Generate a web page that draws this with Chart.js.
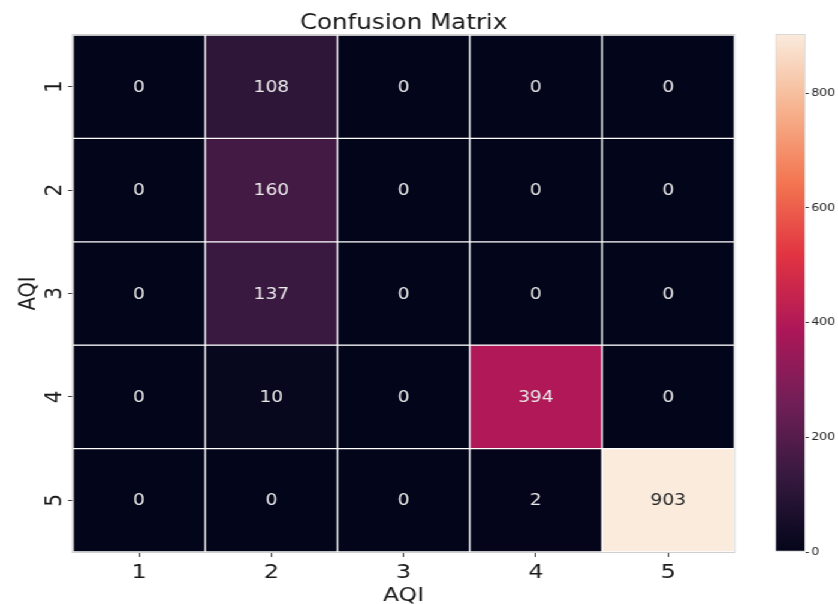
<!DOCTYPE html>
<html>
<head>
<meta charset="utf-8">
<script src="https://cdn.jsdelivr.net/npm/chart.js@4.4.0/dist/chart.umd.min.js"></script>
<style>
  html, body { margin: 0; padding: 0; background: #fff; overflow: hidden; }
  #wrap { position: relative; width: 838px; height: 604px; overflow: hidden; }
  #inner { position: absolute; left: 0; top: 0; height: 604px; transform-origin: 0 0; }
  #inner canvas { position: absolute; top: 0; }
</style>
</head>
<body>
<div id="wrap">
  <div id="inner">
    <canvas id="main"></canvas>
    <canvas id="bar"></canvas>
  </div>
</div>
<script>
const predLabels = ['1', '2', '3', '4', '5'];
const trueLabels = ['1', '2', '3', '4', '5'];
const row1 = [0, 108, 0, 0, 0];
const row2 = [0, 160, 0, 0, 0];
const row3 = [0, 137, 0, 0, 0];
const row4 = [0, 10, 0, 394, 0];
const row5 = [0, 0, 0, 2, 903];
const matrix = [row1, row2, row3, row4, row5];
const cbTicks = [0, 200, 400, 600, 800];

const vmax = Math.max(...matrix.flat());
const FONT = "'DejaVu Sans', sans-serif";
const INK = '#1a1a1a';

// the reference figure is stretched sideways; draw narrow, then scale the whole thing
const SX = 1.2;
const px = v => v / SX;
const mainW = Math.round(px(770)), barW = Math.round(px(68));
const inner = document.getElementById('inner');
inner.style.width = (mainW + barW) + 'px';
inner.style.transform = `scaleX(${838 / (mainW + barW)})`;
const mainCv = document.getElementById('main'), barCv = document.getElementById('bar');
mainCv.width = mainW; mainCv.height = 604; mainCv.style.left = '0px';
barCv.width = barW; barCv.height = 604; barCv.style.left = mainW + 'px';

// seaborn "rocket" colormap, approximate stops
const rocketStops = [
  [0.000, [3, 5, 26]],
  [0.143, [53, 25, 62]],
  [0.286, [112, 31, 87]],
  [0.429, [173, 23, 89]],
  [0.571, [225, 51, 66]],
  [0.714, [243, 118, 81]],
  [0.857, [246, 180, 143]],
  [1.000, [250, 235, 221]]
];
function rocketRGB(t) {
  t = Math.max(0, Math.min(1, t));
  for (let i = 1; i < rocketStops.length; i++) {
    const [p1, c1] = rocketStops[i];
    const [p0, c0] = rocketStops[i - 1];
    if (t <= p1) {
      const f = (t - p0) / (p1 - p0);
      return c0.map((c, k) => Math.round(c + (c1[k] - c) * f));
    }
  }
  return rocketStops[rocketStops.length - 1][1];
}
const rocket = t => 'rgb(' + rocketRGB(t).join(',') + ')';

const datasets = matrix.map((row, i) => ({
  label: trueLabels[i],
  data: row.map(() => [i, i + 1]),
  values: row,
  backgroundColor: row.map(v => rocket(v / vmax)),
  borderColor: '#ffffff',
  borderWidth: 1,
  borderSkipped: false,
  barPercentage: 1,
  categoryPercentage: 1
}));

const heatText = {
  id: 'heatText',
  afterDatasetsDraw(chart) {
    const ctx = chart.ctx;
    const a = chart.chartArea;
    ctx.save();
    ctx.font = '15.5px ' + FONT;
    ctx.textAlign = 'center';
    ctx.textBaseline = 'middle';
    chart.data.datasets.forEach((ds, i) => {
      chart.getDatasetMeta(i).data.forEach((el, j) => {
        const v = ds.values[j];
        const [r, g, b] = rocketRGB(v / vmax);
        const lum = 0.299 * r + 0.587 * g + 0.114 * b;
        ctx.fillStyle = lum > 140 ? '#262626' : '#ebebeb';
        ctx.fillText(String(v), el.x, (el.y + el.base) / 2 + 1);
      });
    });
    ctx.strokeStyle = '#cfcfcf';
    ctx.lineWidth = 1;
    ctx.strokeRect(a.left - 0.5, a.top - 0.5, a.right - a.left + 1, a.bottom - a.top + 1);

    // title, centred over the heatmap
    ctx.fillStyle = INK;
    ctx.font = '20.5px ' + FONT;
    ctx.textBaseline = 'alphabetic';
    ctx.fillText('Confusion Matrix', (a.left + a.right) / 2, 29);

    // y tick labels, turned like seaborn's
    const ys = chart.scales.y;
    ctx.font = '20px ' + FONT;
    ctx.textBaseline = 'middle';
    trueLabels.forEach((lab, i) => {
      ctx.save();
      ctx.translate(px(55), ys.getPixelForValue(i + 0.5));
      ctx.rotate(-Math.PI / 2);
      ctx.fillText(lab, 0, 0);
      ctx.restore();
    });
    ctx.restore();
  }
};

new Chart(mainCv, {
  type: 'bar',
  data: { labels: predLabels, datasets },
  options: {
    responsive: false,
    animation: false,
    layout: { padding: { left: 0, right: mainW - px(735), top: 35, bottom: 0 } },
    plugins: { legend: { display: false }, tooltip: { enabled: false }, title: { display: false } },
    scales: {
      x: {
        stacked: true,
        offset: true,
        grid: { display: true, drawOnChartArea: false, offset: false, tickLength: 5, color: '#333' },
        border: { display: false },
        ticks: { color: INK, font: { family: FONT, size: 20 }, padding: 4 },
        title: { display: true, text: 'AQI', color: INK, font: { family: FONT, size: 19.5 }, padding: { top: 0, bottom: -4 } },
        afterFit: s => { s.height = 52; }
      },
      y: {
        min: 0,
        max: 5,
        reverse: true,
        afterBuildTicks: s => { s.ticks = trueLabels.map((_, i) => ({ value: i + 0.5 })); },
        grid: { display: true, drawOnChartArea: false, tickLength: 4, color: '#333' },
        border: { display: false },
        ticks: { display: false },
        title: { display: true, text: 'AQI', color: INK, font: { family: FONT, size: 19.5 }, padding: { top: 12, bottom: 0 } },
        afterFit: s => { s.width = px(73); }
      }
    }
  },
  plugins: [heatText]
});

new Chart(barCv, {
  type: 'bar',
  data: { labels: [''], datasets: [{
    data: [[0, vmax]],
    backgroundColor: ctx => {
      const a = ctx.chart.chartArea;
      if (!a) return '#000';
      const g = ctx.chart.ctx.createLinearGradient(0, a.bottom, 0, a.top);
      rocketStops.forEach(([p, c]) => g.addColorStop(p, 'rgb(' + c.join(',') + ')'));
      return g;
    },
    borderColor: '#d0d0d0',
    borderWidth: 1,
    borderSkipped: false,
    barPercentage: 1,
    categoryPercentage: 1
  }] },
  options: {
    responsive: false,
    animation: false,
    layout: { padding: { left: px(776) - mainW, right: 0, top: 34, bottom: 52 } },
    plugins: { legend: { display: false }, tooltip: { enabled: false } },
    scales: {
      x: { display: false },
      y: {
        position: 'right',
        min: 0,
        max: vmax,
        afterBuildTicks: s => { s.ticks = cbTicks.map(v => ({ value: v })); },
        grid: { display: true, drawOnChartArea: false, tickLength: 3, color: '#333' },
        border: { display: false },
        ticks: { color: '#262626', font: { family: FONT, size: 10.5 }, padding: 2 },
        afterFit: s => { s.width = barW - (px(806) - mainW); }
      }
    }
  }
});
</script>
</body>
</html>
